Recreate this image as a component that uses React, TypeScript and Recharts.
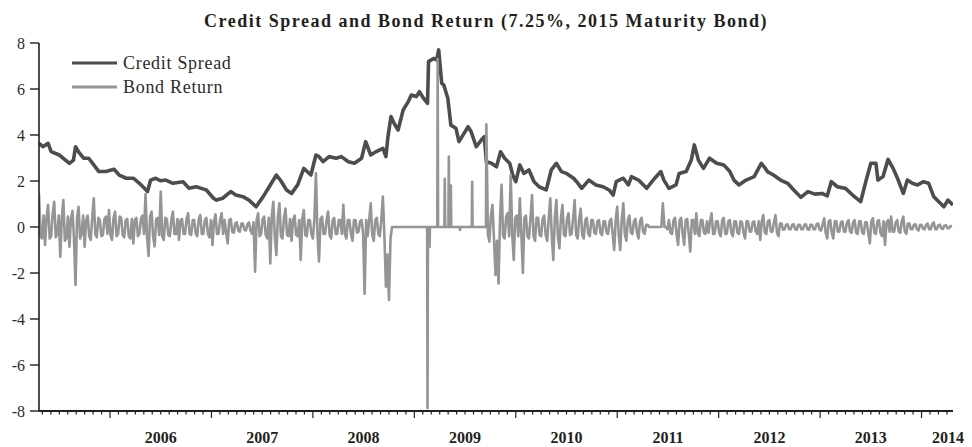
import React from 'react';
import { LineChart, Line, XAxis, YAxis, Legend } from 'recharts';

// ---------- DATA ----------
const chartTitle = 'Credit Spread and Bond Return (7.25%, 2015 Maturity Bond)';
const seriesNames = ['Credit Spread', 'Bond Return'];
const yearLabels = ['2006', '2007', '2008', '2009', '2010', '2011', '2012', '2013', '2014'];
const yTicks = [-8, -6, -4, -2, 0, 2, 4, 6, 8];
const xDomain: [number, number] = [2005.3, 2014.31];

// Credit spread (dates as fractional years)
const csYears = [
  2005.30, 2005.34, 2005.39, 2005.42, 2005.50, 2005.60, 2005.64, 2005.66, 2005.69, 2005.74,
  2005.79, 2005.84, 2005.89, 2005.96, 2006.04, 2006.09, 2006.16, 2006.23, 2006.29, 2006.37,
  2006.40, 2006.45, 2006.50, 2006.55, 2006.62, 2006.72, 2006.78, 2006.85, 2006.90, 2006.95,
  2007.02, 2007.05, 2007.11, 2007.19, 2007.24, 2007.31, 2007.37, 2007.44, 2007.51, 2007.57,
  2007.64, 2007.69, 2007.74, 2007.79, 2007.85, 2007.91, 2007.98, 2008.03, 2008.06, 2008.10,
  2008.16, 2008.23, 2008.28, 2008.35, 2008.41, 2008.48, 2008.52, 2008.57, 2008.62, 2008.69,
  2008.72, 2008.74, 2008.77, 2008.80, 2008.84, 2008.89, 2008.94, 2008.97, 2009.02, 2009.05,
  2009.09, 2009.13, 2009.14, 2009.19, 2009.22, 2009.24, 2009.27, 2009.29, 2009.33, 2009.36,
  2009.41, 2009.44, 2009.49, 2009.53, 2009.56, 2009.61, 2009.66, 2009.69, 2009.71, 2009.76,
  2009.81, 2009.85, 2009.89, 2009.94, 2009.97, 2010.00, 2010.04, 2010.08, 2010.13, 2010.18,
  2010.23, 2010.30, 2010.35, 2010.40, 2010.45, 2010.50, 2010.57, 2010.60, 2010.65, 2010.72,
  2010.79, 2010.86, 2010.92, 2010.96, 2010.99, 2011.06, 2011.11, 2011.14, 2011.21, 2011.29,
  2011.37, 2011.43, 2011.46, 2011.51, 2011.58, 2011.61, 2011.68, 2011.73, 2011.76, 2011.80,
  2011.85, 2011.91, 2011.98, 2012.05, 2012.11, 2012.15, 2012.20, 2012.27, 2012.35, 2012.42,
  2012.46, 2012.48, 2012.54, 2012.61, 2012.68, 2012.74, 2012.81, 2012.88, 2012.95, 2013.02,
  2013.07, 2013.11, 2013.17, 2013.25, 2013.32, 2013.40, 2013.45, 2013.50, 2013.55, 2013.57,
  2013.62, 2013.67, 2013.72, 2013.77, 2013.82, 2013.86, 2013.91, 2013.96, 2014.02, 2014.07,
  2014.12, 2014.17, 2014.22, 2014.26, 2014.31,
];
const csValues = [
  3.64, 3.49, 3.64, 3.28, 3.13, 2.77, 2.91, 3.49, 3.27, 2.99,
  2.99, 2.70, 2.41, 2.41, 2.51, 2.26, 2.12, 2.12, 1.90, 1.54,
  2.04, 2.12, 2.01, 2.04, 1.90, 1.97, 1.68, 1.75, 1.68, 1.61,
  1.25, 1.17, 1.25, 1.54, 1.39, 1.32, 1.17, 0.88, 1.32, 1.75,
  2.26, 1.97, 1.61, 1.46, 1.83, 2.55, 2.26, 3.13, 3.06, 2.84,
  3.06, 2.99, 3.06, 2.84, 2.77, 2.99, 3.71, 3.13, 3.27, 3.42,
  3.06, 3.93, 4.80, 4.51, 4.22, 5.09, 5.45, 5.74, 5.67, 5.88,
  5.60, 5.38, 7.19, 7.33, 7.26, 7.70, 6.25, 6.17, 5.60, 4.43,
  4.29, 3.71, 4.07, 4.36, 4.14, 3.49, 3.78, 3.93, 2.84, 2.77,
  2.62, 3.27, 2.99, 2.77, 2.26, 1.97, 2.70, 2.33, 2.48, 1.97,
  1.75, 1.61, 2.48, 2.77, 2.41, 2.33, 2.12, 1.97, 1.68, 2.04,
  1.83, 1.75, 1.61, 1.39, 1.97, 2.12, 1.83, 2.19, 2.04, 1.68,
  2.12, 2.41, 2.04, 1.68, 1.83, 2.33, 2.41, 2.91, 3.57, 2.91,
  2.55, 2.99, 2.77, 2.70, 2.41, 2.04, 1.83, 2.04, 2.19, 2.77,
  2.55, 2.41, 2.26, 2.04, 1.90, 1.61, 1.29, 1.54, 1.43, 1.46,
  1.35, 1.97, 1.75, 1.68, 1.39, 1.10, 1.97, 2.77, 2.77, 2.04,
  2.19, 2.94, 2.55, 2.04, 1.46, 2.04, 1.90, 1.83, 1.97, 1.90,
  1.32, 1.10, 0.88, 1.17, 0.96,
];

// Bond return: observations every 0.015 yr in the two busy periods.
// "Obs" values sit on the 0.03-yr grid, "Mid" values sit halfway between them.
const brObsStart = 2005.3;
const brObsStep = 0.03;
const brEarlyObs = [
  1.46, -0.5, -0.78, 0.96, -0.4, 1.1, -0.3, -1.29, 1.17, -0.5,
  -0.86, 0.7, -2.52, 0.88, -0.3, -0.86, 0.5, -0.56, 1.25, -0.45,
  0.3, -0.35, 0.45, 0.74, -0.56, 0.67, -0.3, 0.4, -0.45, 0.35,
  -0.5, -0.71, 0.4, -0.3, 0.5, 1.43, -1.26, 0.67, -0.85, 0.4,
  1.54, -0.56, 0.35, -0.4, 0.67, -0.3, -0.56, 0.35, -0.3, 0.6,
  -0.35, 0.3, -0.4, 0.52, -0.3, 0.4, -0.45, -0.78, 0.55, -0.3,
  0.6, 0.3, -0.71, 0.35, -0.25, 0.2, -0.2, 0.15, -0.15, 0.2,
  -0.3, -1.94, 0.6, -0.3, 0.45, -0.5, -1.58, 1.1, -1.22, 1.03,
  -0.5, 0.8, -0.4, -0.6, 0.5, -0.4, -1.43, 0.74, -0.4, 0.3,
  -0.5, 2.33, -1.5, 0.45, -0.3, 0.67, -0.5, 0.4, -0.3, 0.3,
  0.96, -0.5, 0.3, -0.6, 0.3, -0.2, 0.3, -2.9, -0.4, 1.03,
  -0.6, 0.4, -0.4, 1.32, -2.6, -3.17, 0,
];
const brEarlyMid = [
  -0.4, 0.5, 0.45, -0.5, 0.6, -0.45, 0.5, 0.4, -0.6, 0.45,
  0.35, -0.5, 0.4, -0.5, 0.5, 0.3, -0.4, 0.45, -0.3, 0.4,
  -0.4, 0.35, -0.3, -0.35, 0.4, -0.4, 0.45, -0.35, 0.3, -0.4,
  0.35, 0.3, -0.4, 0.35, -0.3, -0.4, 0.45, -0.4, 0.35, -0.35,
  -0.4, 0.4, -0.35, 0.3, -0.3, 0.35, 0.3, -0.3, 0.35, -0.3,
  0.3, -0.3, 0.35, -0.3, 0.3, -0.3, 0.3, 0.25, -0.3, 0.3,
  -0.3, -0.25, 0.3, -0.2, 0.15, -0.15, 0.15, -0.12, 0.12, -0.15,
  0.2, 0.3, -0.4, 0.35, -0.35, 0.4, 0.5, -0.45, 0.45, -0.4,
  0.4, -0.35, 0.35, 0.3, -0.35, 0.3, 0.35, -0.35, 0.3, -0.3,
  0.35, -0.3, 0.35, -0.3, 0.3, -0.35, 0.3, -0.3, 0.3, -0.3,
  -0.3, 0.3, -0.3, 0.3, -0.25, 0.25, -0.3, 0.3, 0.3, -0.35,
  0.3, -0.3, 0.35, -0.4, -1.2, -0.5,
];
// crisis period: returns are mostly zero with isolated jumps
const brCrisisYears = [
  2009.126, 2009.13, 2009.134, 2009.146, 2009.15, 2009.154,
  2009.226, 2009.23, 2009.234, 2009.296, 2009.30, 2009.304,
  2009.336, 2009.34, 2009.344, 2009.356, 2009.36, 2009.364,
  2009.446, 2009.45, 2009.454, 2009.566, 2009.57, 2009.574, 2009.706,
];
const brCrisisValues = [
  0, -7.88, 0, 0, -0.86, 0,
  0, 7.3, 0, 0, 2.1, 0,
  0, 3.06, 0, 0, 1.8, 0,
  0, -0.13, 0, 0, 1.97, 0, 0,
];
const brLateFirstIndex = 147;
const brLateObs = [
  4.46, -0.64, 0.96, -2.09, -2.45, 1.83, -0.5, 0.6, 2.26, -1.43,
  0.5, 1.25, -2.0, 0.5, -0.5, 1.39, -0.6, 0.4, -0.4, 0.5,
  -0.6, 1.25, -1.43, 1.17, -0.93, 0.96, -0.4, 0.6, -0.3, 1.17,
  -0.5, 0.8, -0.5, 0.4, -0.4, 0.3, -0.3, 0.3, -0.35, 0.25,
  -0.3, 0.35, -1.0, 0.88, -1.0, 1.03, -0.6, 0.5, -0.3, 0.35,
  -0.5, 0.4, -0.3, 0.1, 0, 0, 0, 0, 1.03, 0,
  0.3, -0.3, 0.4, -0.78, 0.4, -0.78, 0.35, -1.07, 0.3, 0.6,
  -0.4, 0.3, -0.3, -0.25, 0.6, -0.3, 0.25, -0.4, 0.4, -0.3,
  0.3, -0.4, 0.25, -0.3, 0.2, -0.5, 0.25, -0.2, 0.25, -0.3,
  -0.56, 0.52, -0.3, 0.3, -0.2, 0.52, -0.4, 0.15, -0.1, 0.12,
  -0.1, 0.12, -0.12, 0.1, -0.1, 0.12, -0.12, 0.1, -0.1, 0.15,
  -0.15, 0.38, -0.5, 0.3, -0.5, 0.25, -0.2, 0.25, -0.2, 0.3,
  -0.25, 0.3, -0.3, 0.25, -0.3, 0.2, -0.71, 0.38, -0.3, 0.3,
  -0.4, -0.78, 0.3, 0.45, -0.2, 0.3, -0.25, 0.45, -0.3, 0.15,
  -0.1, 0.12, -0.15, 0.1, -0.1, 0.15, -0.1, 0.2, -0.1, 0.1,
  -0.08, 0.08, -0.05, 0.02,
];
const brLateMid = [
  -0.3, 0.5, -0.5, -0.6, 0.4, -0.4, 0.45, -0.4, -0.3, 0.4,
  -0.4, -0.3, 0.4, -0.4, 0.4, -0.4, 0.4, -0.35, 0.35, -0.35,
  0.4, -0.4, 0.4, -0.4, 0.4, -0.35, 0.35, -0.35, 0.35, -0.35,
  0.35, -0.35, 0.3, -0.3, 0.3, -0.25, 0.25, -0.25, 0.25, -0.25,
  0.25, -0.3, 0.3, -0.35, 0.35, -0.3, 0.3, -0.25, 0.25, -0.25,
  0.25, -0.2, 0.1, 0, 0, 0, 0, 0, 0, -0.1,
  -0.25, 0.3, -0.3, 0.3, -0.3, 0.3, -0.3, 0.3, -0.3, -0.3,
  0.3, -0.25, 0.25, 0.25, -0.3, 0.25, -0.25, 0.3, -0.3, 0.25,
  -0.25, 0.25, -0.25, 0.25, -0.25, 0.25, -0.2, 0.2, -0.2, 0.25,
  0.25, -0.25, 0.25, -0.2, 0.2, -0.25, 0.15, -0.12, 0.1, -0.1,
  0.1, -0.1, 0.1, -0.1, 0.1, -0.1, 0.1, -0.1, 0.12, -0.12,
  0.12, -0.25, 0.25, -0.25, 0.25, -0.2, 0.2, -0.2, 0.2, -0.2,
  0.2, -0.25, 0.25, -0.25, 0.2, -0.25, 0.25, -0.25, 0.25, -0.25,
  0.25, 0.2, -0.2, -0.2, 0.2, -0.2, 0.25, -0.2, 0.15, -0.1,
  0.1, -0.1, 0.1, -0.08, 0.1, -0.1, 0.12, -0.1, 0.08, -0.06,
  0.06, -0.05, 0.04,
];

// ---------- derived tables ----------
const obsYear = (k: number) => Math.round((brObsStart + brObsStep * k) * 10000) / 10000;
const interleave = (obs: number[], mid: number[], firstIndex: number) => {
  const out: { t: number; v: number }[] = [];
  obs.forEach((v, i) => {
    out.push({ t: obsYear(firstIndex + i), v });
    if (i < mid.length) out.push({ t: obsYear(firstIndex + i + 0.5), v: mid[i] });
  });
  return out;
};
const csData = csYears.map((t, i) => ({ t, v: csValues[i] }));
const brData = [
  ...interleave(brEarlyObs, brEarlyMid, 0),
  ...brCrisisYears.map((t, i) => ({ t, v: brCrisisValues[i] })),
  ...interleave(brLateObs, brLateMid, brLateFirstIndex),
];

const monthTicks: number[] = [];
for (let y = 2005; y <= 2014; y++) {
  for (let m = 0; m < 12; m++) {
    const t = y + m / 12;
    if (t >= xDomain[0] && t <= xDomain[1]) monthTicks.push(t);
  }
}
const xTicks = [...monthTicks, xDomain[1]];

const FONT = '"Liberation Serif", "Times New Roman", serif';
const AXIS = '#231f20';

const XTick = (props: any) => {
  const { x, y, payload } = props;
  const v: number = payload.value;
  if (v === xDomain[1]) {
    return (
      <text x={x + 11} y={y + 32} textAnchor="end" fontFamily={FONT} fontSize={16} fontWeight="bold" fill="#231f20">
        {yearLabels[yearLabels.length - 1]}
      </text>
    );
  }
  const yr = Math.floor(v + 1e-6);
  const m = Math.round((v - yr) * 12);
  const major = m === 0;
  const label = m === 6 ? yearLabels.slice(0, -1).find((s) => Number(s) === yr) : undefined;
  return (
    <g>
      <line x1={x} x2={x} y1={y} y2={y + (major ? 7 : 3.5)} stroke={AXIS} strokeWidth={1.2} />
      {label ? (
        <text x={x} y={y + 32} textAnchor="middle" fontFamily={FONT} fontSize={16} fontWeight="bold" fill="#231f20">
          {label}
        </text>
      ) : null}
    </g>
  );
};

const renderLegend = (props: any) => {
  const items = [...(props.payload || [])].sort(
    (a: any, b: any) => seriesNames.indexOf(a.value) - seriesNames.indexOf(b.value)
  );
  return (
    <div>
      {items.map((entry: any) => (
        <div key={entry.value} style={{ display: 'flex', alignItems: 'center', height: 24 }}>
          <svg width={45} height={6} style={{ display: 'block' }}>
            <line x1={0} y1={3} x2={45} y2={3} stroke={entry.color} strokeWidth={3} />
          </svg>
          <span style={{ marginLeft: 6, fontFamily: FONT, fontSize: 18, color: '#2b2b2b', letterSpacing: 0.7, lineHeight: '24px' }}>
            {entry.value}
          </span>
        </div>
      ))}
    </div>
  );
};

export default function App() {
  return (
    <div style={{ position: 'absolute', left: 0, top: 0, width: 972, height: 447, background: '#fff' }}>
      <div
        style={{
          position: 'absolute',
          left: 0,
          top: 12,
          width: 972,
          textAlign: 'center',
          fontFamily: FONT,
          fontWeight: 'bold',
          fontSize: 18,
          lineHeight: '18px',
          letterSpacing: 1.5,
          color: '#231f20',
        }}
      >
        {chartTitle}
      </div>
      <LineChart width={972} height={447} margin={{ top: 43, right: 19, bottom: 6, left: 0 }}>
        <XAxis
          type="number"
          dataKey="t"
          domain={xDomain}
          ticks={xTicks}
          interval={0}
          tickSize={0}
          tickMargin={0}
          tickLine={false}
          axisLine={{ stroke: AXIS, strokeWidth: 2 }}
          tick={<XTick />}
          height={30}
          allowDataOverflow
        />
        <YAxis
          type="number"
          domain={[-8, 8]}
          ticks={yTicks}
          interval={0}
          width={39}
          tickSize={9}
          tickMargin={5}
          axisLine={{ stroke: AXIS, strokeWidth: 1.6 }}
          tickLine={{ stroke: AXIS, strokeWidth: 1.4 }}
          tick={{ fill: '#2b2b2b', fontSize: 16, fontFamily: FONT }}
        />
        <Legend
          content={renderLegend}
          layout="vertical"
          align="center"
          verticalAlign="middle"
          wrapperStyle={{ left: 72, top: 51, width: 'auto' }}
        />
        <Line
          data={csData}
          dataKey="v"
          name={seriesNames[0]}
          type="linear"
          stroke="#4d4d4d"
          strokeWidth={3.6}
          dot={false}
          isAnimationActive={false}
          strokeLinejoin="round"
        />
        <Line
          data={brData}
          dataKey="v"
          name={seriesNames[1]}
          type="linear"
          stroke="#959595"
          strokeWidth={2.6}
          dot={false}
          isAnimationActive={false}
          strokeLinejoin="round"
        />
      </LineChart>
    </div>
  );
}
